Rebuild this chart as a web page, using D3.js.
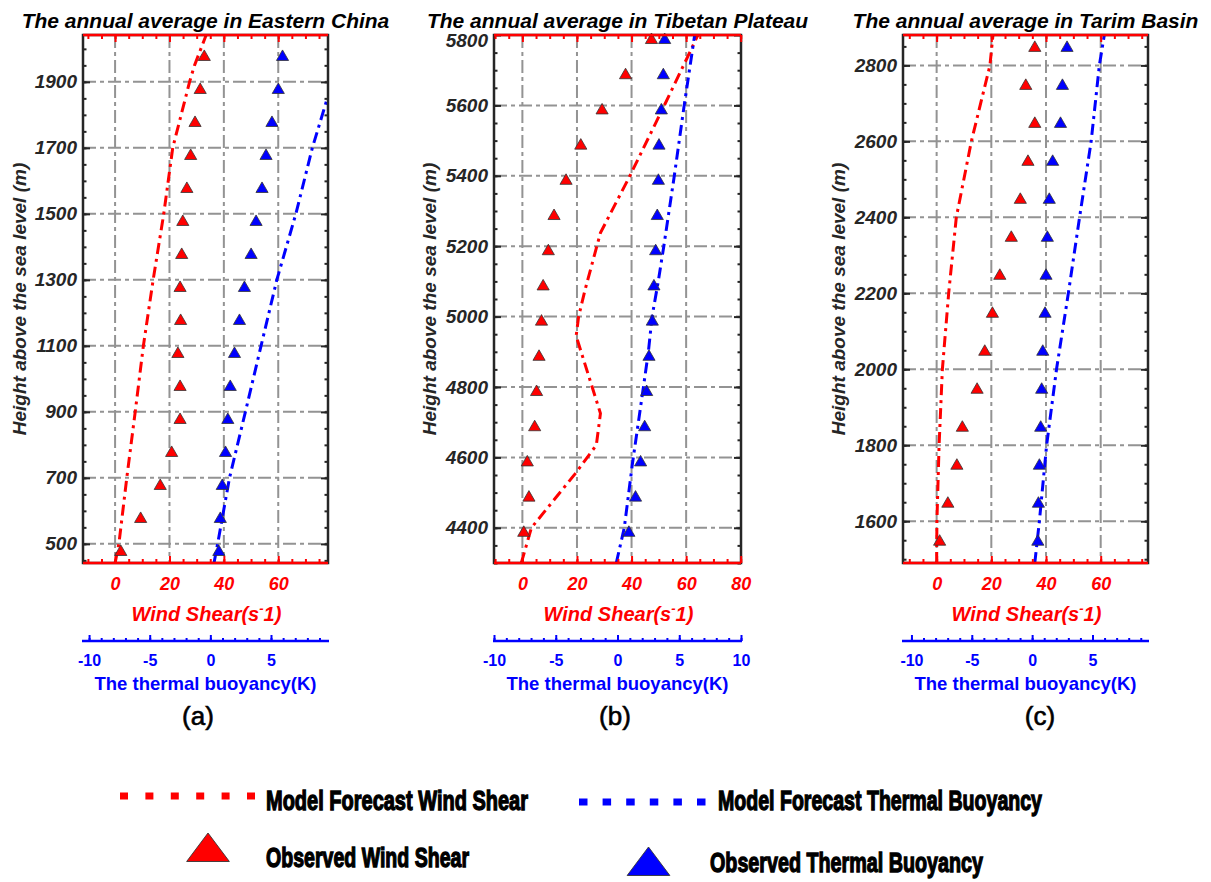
<!DOCTYPE html>
<html>
<head>
<meta charset="utf-8">
<title>Wind shear and thermal buoyancy profiles</title>
<style>
    body { margin: 0; background: #fff; }
    svg { display: block; font-family: 'Liberation Sans', Arial, sans-serif; }
    .title { font-size: 21px; font-weight: bold; font-style: italic; fill: #000; }
    .ylab { font-size: 19px; font-weight: bold; font-style: italic; fill: #262626; }
    .hy .tick text { font-size: 19px; font-weight: bold; font-style: italic; fill: #262626; }
    .ws .tick text { font-size: 18px; font-weight: bold; font-style: italic; fill: #ff0000; }
    .tb .tick text { font-size: 16px; font-weight: bold; fill: #0000ff; }
    .wslab { font-size: 20px; font-weight: bold; font-style: italic; fill: #ff0000; }
    .tblab { font-size: 18.5px; font-weight: bold; fill: #0000ff; }
    .letter { font-size: 26px; fill: #000; stroke: #000; stroke-width: 0.6px; }
    .legend-text { font-family: 'Liberation Sans', Arial, sans-serif; font-size: 27px; font-weight: bold;
                   fill: #000; stroke: #000; stroke-width: 1.3px; }
</style>
</head>
<body>
<svg width="1211" height="882"></svg>
<script src="https://d3js.org/d3.v7.min.js"></script>
<script>

// ---------- data ----------
const titles = ["The annual average in Eastern China",
                "The annual average in Tibetan Plateau",
                "The annual average in Tarim Basin"];
const letters = ["(a)", "(b)", "(c)"];

// (a) Eastern China
const obsHeightA = [480, 580, 680, 780, 880, 980, 1080, 1180, 1280, 1380, 1480, 1580, 1680, 1780, 1880, 1980];
const obsShearA  = [2.1, 9.4, 16.6, 20.8, 23.9, 23.9, 23.1, 24.1, 23.9, 24.5, 24.9, 26.4, 27.8, 29.4, 31.3, 32.8];
const obsBuoyA   = [0.70, 0.82, 0.98, 1.25, 1.44, 1.64, 1.99, 2.40, 2.81, 3.36, 3.77, 4.26, 4.59, 5.08, 5.60, 5.95];
const modShearHA = [442, 500, 700, 900, 1100, 1300, 1500, 1700, 1800, 1900, 1950, 2042];
const modShearA  = [0.0, 1.4, 4.3, 7.4, 10.4, 14.0, 17.9, 21.2, 24.3, 27.4, 29.2, 33.5];
const modBuoyHA  = [442, 500, 700, 900, 1100, 1300, 1500, 1700, 1851];
const modBuoyA   = [0.3, 0.6, 1.58, 2.89, 4.18, 5.48, 7.05, 8.41, 9.65];

// (b) Tibetan Plateau
const obsHeightB = [4390, 4490, 4590, 4690, 4790, 4890, 4990, 5090, 5190, 5290, 5390, 5490, 5590, 5690, 5790];
const obsShearB  = [0.5, 2.4, 1.8, 4.5, 5.2, 6.1, 7.0, 7.6, 9.5, 11.6, 16.0, 21.4, 29.2, 37.8, 47.3];
const obsBuoyB   = [0.92, 1.46, 1.87, 2.20, 2.36, 2.55, 2.82, 2.95, 3.09, 3.22, 3.31, 3.36, 3.55, 3.71, 3.82];
const modShearHB = [4300, 4335, 4400, 4553, 4635, 4725, 4945, 5000, 5077, 5238, 5400, 5600, 5729, 5800];
const modShearB  = [-0.4, 0.9, 3.3, 19.3, 27.1, 28.6, 19.7, 20.6, 23.0, 28.6, 39.4, 52.0, 60.0, 64.3];
const modBuoyHB  = [4300, 4400, 4580, 4690, 4800, 4900, 5000, 5100, 5200, 5400, 5600, 5800];
const modBuoyB   = [-0.1, 0.55, 1.2, 1.65, 2.1, 2.5, 2.8, 3.3, 3.75, 4.6, 5.4, 6.25];

// (c) Tarim Basin
const obsHeightC = [1550, 1650, 1750, 1850, 1950, 2050, 2150, 2250, 2350, 2450, 2550, 2650, 2750, 2850];
const obsShearC  = [1.1, 4.1, 7.4, 9.4, 14.8, 17.6, 20.4, 23.1, 27.3, 30.6, 33.4, 35.9, 32.6, 35.9];
const obsBuoyC   = [0.47, 0.52, 0.60, 0.71, 0.79, 0.88, 1.07, 1.15, 1.26, 1.42, 1.70, 2.35, 2.51, 2.89];
const modShearHC = [1490, 1600, 1800, 2000, 2200, 2400, 2600, 2800, 2880];
const modShearC  = [0.0, 0.1, 0.9, 2.1, 4.4, 7.2, 12.7, 19.5, 20.6];
const modBuoyHC  = [1490, 1600, 1800, 2000, 2200, 2400, 2600, 2800, 2880];
const modBuoyC   = [0.22, 0.6, 1.2, 2.02, 3.0, 3.93, 4.89, 5.57, 5.98];

// tick labels
const heightTicksA = [500, 700, 900, 1100, 1300, 1500, 1700, 1900];
const heightTicksB = [4400, 4600, 4800, 5000, 5200, 5400, 5600, 5800];
const heightTicksC = [1600, 1800, 2000, 2200, 2400, 2600, 2800];
const shearTicks   = [0, 20, 40, 60];
const shearTicksB  = [0, 20, 40, 60, 80];
const buoyTicks    = [-10, -5, 0, 5];
const buoyTicksB   = [-10, -5, 0, 5, 10];

const legendLabels = ["Model Forecast Wind Shear", "Model Forecast Thermal Buoyancy",
                      "Observed Wind Shear", "Observed Thermal Buoyancy"];

// ---------- layout ----------
const RED = "#ff0000", BLUE = "#0000ff", GRID = "#939393", AX = "#262626";
const plotTop = 35, plotBottom = 563, buoyAxisY = 641;
const plain = d => String(d);   // keeps "-10" with a hyphen and no thousands comma

const panels = [
    { left: 83, right: 328, shearDom: [-11.8, 78.3], buoyDom: [-10.5, 9.7], hDom: [442, 2042],
      hTicks: heightTicksA, sTicks: shearTicks, bTicks: buoyTicks,
      obsH: obsHeightA, obsS: obsShearA, obsB: obsBuoyA,
      mSH: modShearHA, mS: modShearA, mBH: modBuoyHA, mB: modBuoyA,
      ylabX: 26, letterX: 198 },
    { left: 494, right: 741, shearDom: [-10.4, 80.1], buoyDom: [-10, 10], hDom: [4300, 5800],
      hTicks: heightTicksB, sTicks: shearTicksB, bTicks: buoyTicksB,
      obsH: obsHeightB, obsS: obsShearB, obsB: obsBuoyB,
      mSH: modShearHB, mS: modShearB, mBH: modBuoyHB, mB: modBuoyB,
      ylabX: 436, letterX: 615 },
    { left: 903, right: 1148, shearDom: [-12.3, 77.3], buoyDom: [-10.7, 9.6], hDom: [1490, 2880],
      hTicks: heightTicksC, sTicks: shearTicks, bTicks: buoyTicks,
      obsH: obsHeightC, obsS: obsShearC, obsB: obsBuoyC,
      mSH: modShearHC, mS: modShearC, mBH: modBuoyHC, mB: modBuoyC,
      ylabX: 845, letterX: 1040 }
];

const svg = d3.select("svg");
const tri = d3.symbol().type(d3.symbolTriangle).size(64);

panels.forEach((p, i) => {
    const x = d3.scaleLinear().domain(p.shearDom).range([p.left, p.right]);
    const xb = d3.scaleLinear().domain(p.buoyDom).range([p.left, p.right]);
    const y = d3.scaleLinear().domain(p.hDom).range([plotBottom, plotTop]);
    const cx = (p.left + p.right) / 2;
    const g = svg.append("g");

    svg.append("clipPath").attr("id", "clip" + i)
        .append("rect")
        .attr("x", p.left).attr("y", plotTop)
        .attr("width", p.right - p.left).attr("height", plotBottom - plotTop);

    // grid
    g.append("g").selectAll("line")
        .data(p.sTicks.filter(v => x(v) < p.right - 2))
        .join("line")
        .attr("x1", d => x(d)).attr("x2", d => x(d))
        .attr("y1", plotTop).attr("y2", plotBottom)
        .attr("stroke", GRID).attr("stroke-width", 2)
        .attr("stroke-dasharray", "13,4,4,4");
    g.append("g").selectAll("line")
        .data(p.hTicks.filter(v => y(v) > plotTop + 2))
        .join("line")
        .attr("x1", p.left).attr("x2", p.right)
        .attr("y1", d => y(d)).attr("y2", d => y(d))
        .attr("stroke", GRID).attr("stroke-width", 2)
        .attr("stroke-dasharray", "13,4,4,4");

    // model lines
    const lines = g.append("g").attr("clip-path", `url(#clip${i})`);
    lines.append("path")
        .datum(p.mSH.map((h, k) => [p.mS[k], h]))
        .attr("fill", "none").attr("stroke", RED).attr("stroke-width", 3)
        .attr("stroke-dasharray", "11,5,3,5")
        .attr("d", d3.line().x(d => x(d[0])).y(d => y(d[1])));
    lines.append("path")
        .datum(p.mBH.map((h, k) => [p.mB[k], h]))
        .attr("fill", "none").attr("stroke", BLUE).attr("stroke-width", 3)
        .attr("stroke-dasharray", "11,5,3,5")
        .attr("d", d3.line().x(d => xb(d[0])).y(d => y(d[1])));

    // observations
    g.append("g").selectAll("path")
        .data(p.obsH.map((h, k) => [p.obsS[k], h]))
        .join("path")
        .attr("d", tri)
        .attr("transform", d => `translate(${x(d[0])},${y(d[1]) + 1.5})`)
        .attr("fill", RED).attr("stroke", "#333").attr("stroke-width", 0.8);
    g.append("g").selectAll("path")
        .data(p.obsH.map((h, k) => [p.obsB[k], h]))
        .join("path")
        .attr("d", tri)
        .attr("transform", d => `translate(${xb(d[0])},${y(d[1]) + 1.5})`)
        .attr("fill", BLUE).attr("stroke", "#333").attr("stroke-width", 0.8);

    // box
    g.append("rect")
        .attr("x", p.left).attr("y", plotTop)
        .attr("width", p.right - p.left).attr("height", plotBottom - plotTop)
        .attr("fill", "none").attr("stroke", AX).attr("stroke-width", 2.5);

    // left / right height axes
    const minorH = d3.range(Math.ceil(p.hDom[0] / 50) * 50, p.hDom[1], 50);
    const styleAx = (sel, col) => {
        sel.select(".domain").remove();
        sel.selectAll(".tick line").attr("stroke", col).attr("stroke-width", 2);
    };
    g.append("g").attr("transform", `translate(${p.left},0)`)
        .call(d3.axisLeft(y).tickValues(minorH).tickSize(-3.5).tickFormat(""))
        .call(s => styleAx(s, AX));
    g.append("g").attr("transform", `translate(${p.right},0)`)
        .call(d3.axisRight(y).tickValues(minorH).tickSize(-3.5).tickFormat(""))
        .call(s => styleAx(s, AX));
    g.append("g").attr("class", "hy").attr("transform", `translate(${p.left},0)`)
        .call(d3.axisLeft(y).tickValues(p.hTicks).tickSize(-7).tickPadding(6).tickFormat(plain))
        .call(s => styleAx(s, AX))
        // a label sitting on the top edge is nudged down, as in the source figure
        .call(s => s.selectAll(".tick text").filter(d => y(d) - plotTop < 3).attr("dy", "0.62em"));
    g.append("g").attr("transform", `translate(${p.right},0)`)
        .call(d3.axisRight(y).tickValues(p.hTicks).tickSize(-7).tickFormat(""))
        .call(s => styleAx(s, AX));

    // wind shear axes (bottom and top, red)
    const minorS = d3.range(Math.ceil(p.shearDom[0] / 5) * 5, p.shearDom[1], 5);
    g.append("g").attr("transform", `translate(0,${plotBottom})`)
        .call(d3.axisBottom(x).tickValues(minorS).tickSize(-4).tickFormat(""))
        .call(s => styleAx(s, RED));
    g.append("g").attr("class", "ws").attr("transform", `translate(0,${plotBottom})`)
        .call(d3.axisBottom(x).tickValues(p.sTicks).tickSize(-7).tickPadding(14).tickFormat(plain))
        .call(s => styleAx(s, RED));
    g.append("g").attr("transform", `translate(0,${plotTop})`)
        .call(d3.axisTop(x).tickValues(minorS).tickSize(-4).tickFormat(""))
        .call(s => styleAx(s, RED));
    g.append("g").attr("transform", `translate(0,${plotTop})`)
        .call(d3.axisTop(x).tickValues(p.sTicks).tickSize(-7).tickFormat(""))
        .call(s => styleAx(s, RED));
    [plotTop, plotBottom].forEach(yy => {
        g.append("line").attr("x1", p.left).attr("x2", p.right)
            .attr("y1", yy).attr("y2", yy)
            .attr("stroke", RED).attr("stroke-width", 2.5);
    });

    // thermal buoyancy axis (blue, below)
    const minorB = d3.range(Math.ceil(p.buoyDom[0]), p.buoyDom[1] + 0.001, 1);
    g.append("g").attr("transform", `translate(0,${buoyAxisY})`)
        .call(d3.axisBottom(xb).tickValues(minorB).tickSize(-3).tickFormat(""))
        .call(s => styleAx(s, BLUE));
    g.append("g").attr("class", "tb").attr("transform", `translate(0,${buoyAxisY})`)
        .call(d3.axisBottom(xb).tickValues(p.bTicks).tickSize(-6).tickPadding(14).tickFormat(plain))
        .call(s => styleAx(s, BLUE));
    g.append("line").attr("x1", p.left - 1).attr("x2", p.right + 1)
        .attr("y1", buoyAxisY).attr("y2", buoyAxisY)
        .attr("stroke", BLUE).attr("stroke-width", 2.5);

    // texts
    g.append("text").attr("class", "title")
        .attr("x", cx).attr("y", 28).attr("text-anchor", "middle")
        .text(titles[i]);
    g.append("text").attr("class", "ylab")
        .attr("transform", `translate(${p.ylabX},${(plotTop + plotBottom) / 2}) rotate(-90)`)
        .attr("text-anchor", "middle")
        .text("Height above the sea level (m)");
    const ws = g.append("text").attr("class", "wslab")
        .attr("x", cx + 1).attr("y", 621).attr("text-anchor", "middle");
    ws.append("tspan").text("Wind Shear(s");
    ws.append("tspan").attr("dy", -8).attr("font-size", 13).text("-");
    ws.append("tspan").attr("dy", 8).text("1)");
    g.append("text").attr("class", "tblab")
        .attr("x", cx).attr("y", 690).attr("text-anchor", "middle")
        .text("The thermal buoyancy(K)");
    g.append("text").attr("class", "letter")
        .attr("x", p.letterX).attr("y", 725).attr("text-anchor", "middle")
        .text(letters[i]);
});

// ---------- legend ----------
const leg = svg.append("g");
leg.append("line").attr("x1", 120).attr("x2", 255).attr("y1", 796).attr("y2", 796)
    .attr("stroke", RED).attr("stroke-width", 7).attr("stroke-dasharray", "8,17.4");
leg.append("line").attr("x1", 579).attr("x2", 706).attr("y1", 802).attr("y2", 802)
    .attr("stroke", BLUE).attr("stroke-width", 7).attr("stroke-dasharray", "8.5,15.1");

const bigTri = d3.symbol().type(d3.symbolTriangle).size(790);
leg.append("path").attr("d", bigTri)
    .attr("transform", "translate(208,852) scale(1,0.77)")
    .attr("fill", RED).attr("stroke", "#333").attr("stroke-width", 1);
leg.append("path").attr("d", bigTri)
    .attr("transform", "translate(648.5,866) scale(1,0.77)")
    .attr("fill", BLUE).attr("stroke", "#333").attr("stroke-width", 1);

const legPos = [[266, 810, 262], [718, 810, 324], [266, 867, 203], [710, 872, 273]];
leg.selectAll("text.legend-text")
    .data(legendLabels)
    .join("text")
    .attr("class", "legend-text")
    .attr("x", (d, k) => legPos[k][0])
    .attr("y", (d, k) => legPos[k][1])
    .attr("textLength", (d, k) => legPos[k][2])
    .attr("lengthAdjust", "spacingAndGlyphs")
    .text(d => d);

</script>
</body>
</html>
